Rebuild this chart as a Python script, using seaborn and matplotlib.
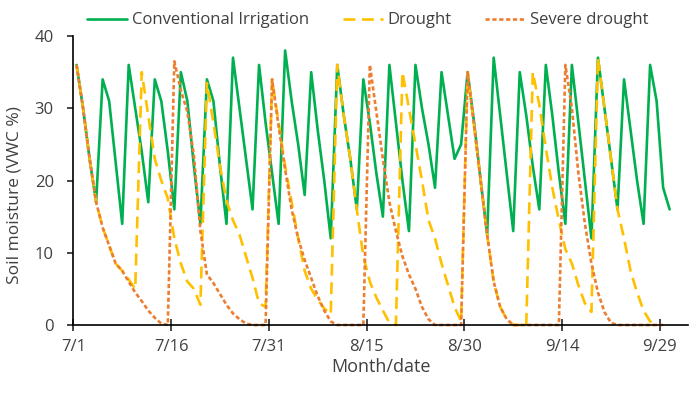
import numpy as np
import pandas as pd
import seaborn as sns
import matplotlib.pyplot as plt

# soil moisture (VWC %), one value per day starting 7/1
conventional = [36, 30, 23, 17, 34, 31, 22.5, 14, 36, 30, 24, 17, 34, 31, 24, 16,
                35, 31, 22, 14, 34, 31, 22, 14, 37, 30, 23, 16, 36, 28, 21, 14,
                38, 31, 25, 18, 35, 27, 20, 12, 36, 29, 23, 16, 34, 28, 21, 15,
                36, 28, 20, 13, 36, 30, 25, 19, 35, 29, 23, 25, 35, 28, 20, 12.5,
                37, 29, 21, 13, 35, 29, 22, 16, 36, 29, 21, 14, 36, 28, 20, 12,
                37, 30, 23, 16, 34, 27, 20, 14, 36, 31, 19, 16]
drought = [36, 30, 23, 17, 13.5, 11, 8.5, 7.5, 6.3, 5,
           35, 29, 23, 20, 17.5, 12, 8.5, 6, 5, 2.8,
           33.5, 28, 22, 17.2, 14.5, 12.5, 9.5, 6.5, 3, 2.5,
           34, 28, 22, 17, 12, 7.5, 5, 3.5, 2.3, 1.5,
           36, 29, 23, 16, 9.5, 6, 3.8, 2, 0.3, 0,
           35, 30, 25, 20, 14.5, 12, 8.5, 5.5, 2.5, 0.5,
           35, 27.5, 20, 12.5, 6, 2.5, 0.8, 0, 0, 0,
           35, 30.5, 24.5, 19, 14.5, 10.5, 8.5, 5.5, 3, 1.8,
           37, 30, 23, 16, 12, 7.5, 4.5, 2, 0.5, 0]
severe = [36, 30, 23, 17, 13.5, 11, 8.5, 7.5, 6, 4.5, 3.3, 2, 1, 0.2, 0,
          36.5, 32.5, 29.5, 23.5, 13, 7, 5.8, 4.3, 2.8, 1.6, 0.8, 0.2, 0, 0, 0,
          34, 27.5, 21.5, 16, 12, 9, 6.5, 4, 2, 0.5, 0, 0, 0, 0, 0,
          36, 29.5, 23, 17, 13, 9.5, 7, 5, 2.5, 0.8, 0, 0, 0, 0, 0,
          35, 27.5, 20, 12.5, 6, 2.5, 0.8, 0, 0, 0, 0, 0, 0, 0, 0,
          36, 30, 21, 14, 8.5, 4.5, 1.8, 0.3, 0, 0, 0, 0, 0, 0, 0, 0]

treatments = ['Conventional Irrigation', 'Drought', 'Severe drought']
colors = ['#00b050', '#ffc000', '#ed7d31']
tick_dates = pd.date_range('2021-07-01', periods=7, freq='15D')
tick_labels = [f'{d.month}/{d.day}' for d in tick_dates]


def main():
    df = pd.concat([
        pd.DataFrame({'day': np.arange(len(v)), 'vwc': v, 'treatment': name})
        for name, v in zip(treatments, [conventional, drought, severe])
    ])

    sns.set_style('ticks')
    plt.rcParams['font.family'] = ['Open Sans', 'DejaVu Sans']
    text_color = '#404040'

    fig = plt.figure(figsize=(6.89, 3.94), dpi=100)
    ax = fig.add_axes([0.1064, 0.1751, 0.892, 0.7335])

    sns.lineplot(
        data=df, x='day', y='vwc', hue='treatment', style='treatment',
        hue_order=treatments, style_order=treatments,
        palette=dict(zip(treatments, colors)),
        dashes={treatments[0]: '', treatments[1]: (4.5, 2.5), treatments[2]: (1.6, 1.0)},
        estimator=None, linewidth=1.9, ax=ax, legend=True
    )
    for line in ax.lines:
        line.set_clip_on(False)

    ax.set_xlim(-0.5, 93.8)
    ax.set_ylim(0, 40)
    ax.set_yticks([0, 10, 20, 30, 40])
    ax.set_xticks(np.arange(0, 91, 15) - 0.5)
    ax.set_xticklabels(tick_labels)
    ax.tick_params(axis='x', direction='inout', length=8, width=1.2,
                   labelsize=12, labelcolor=text_color, pad=6)
    ax.tick_params(axis='y', direction='out', length=4, width=1.2,
                   labelsize=12, labelcolor=text_color, pad=10)
    for s in ['left', 'bottom']:
        ax.spines[s].set_linewidth(1.2)
        ax.spines[s].set_color('black')
    sns.despine(ax=ax)

    ax.set_xlabel('Month/date', fontsize=13, color=text_color, labelpad=2)
    ax.set_ylabel('Soil moisture (VWC %)', fontsize=12.5, color=text_color)
    ax.yaxis.set_label_coords(-0.083, 0.45)

    handles, labels = ax.get_legend_handles_labels()
    ax.get_legend().remove()
    fig.legend(handles, labels, loc='center', bbox_to_anchor=(0.534, 0.948),
               ncol=3, frameon=False, fontsize=12, handlelength=2.4,
               handletextpad=0.3, columnspacing=2.0, labelcolor=text_color)

    plt.savefig('out.png', dpi=100)


if __name__ == '__main__':
    main()
